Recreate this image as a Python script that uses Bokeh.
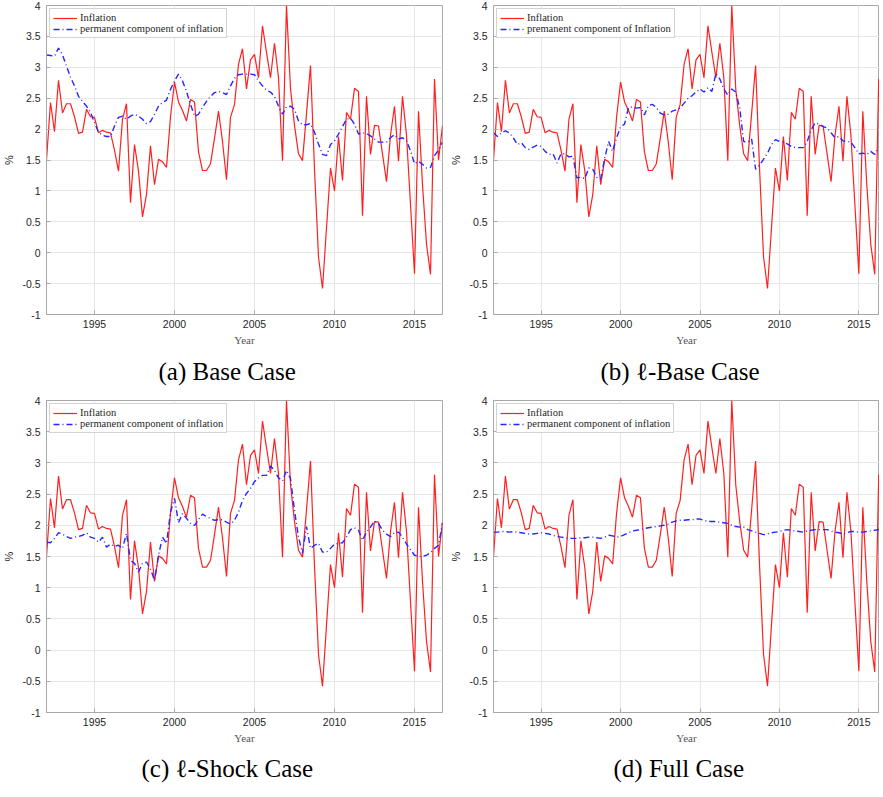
from bokeh.plotting import figure
from bokeh.models import Range1d, FixedTicker, NumeralTickFormatter, Title, Legend, LegendItem
from bokeh.layouts import column, row
from bokeh.embed import file_html
from bokeh.resources import INLINE

# quarterly time index 1992Q1 .. 2016Q4
years = [1992 + q / 4 for q in range(100)]

inflation = [
    1.50, 2.43, 1.96, 2.79, 2.26, 2.41, 2.41, 2.20, 1.93, 1.95,
    2.32, 2.20, 2.19, 1.94, 1.98, 1.95, 1.94, 1.66, 1.32, 2.16,
    2.41, 0.81, 1.75, 1.32, 0.58, 0.94, 1.73, 1.10, 1.51, 1.47,
    1.38, 2.20, 2.76, 2.44, 2.30, 2.13, 2.48, 2.44, 1.63, 1.33,
    1.33, 1.44, 1.85, 2.29, 1.80, 1.18, 2.19, 2.40, 3.05, 3.30,
    2.65, 3.12, 3.21, 2.83, 3.67, 3.24, 2.83, 3.39, 2.83, 1.49,
    4.00, 2.65, 2.06, 1.60, 1.49, 2.25, 3.03, 1.35, -0.07, -0.58,
    0.40, 1.37, 1.00, 1.88, 1.17, 2.27, 2.16, 2.66, 2.61, 0.60,
    2.53, 1.59, 2.06, 2.05, 1.60, 1.15, 1.90, 2.37, 1.48, 2.53,
    1.90, 0.78, -0.34, 2.29, 1.10, 0.14, -0.35, 2.81, 1.50, 2.05,
]

perm_base = [
    3.20, 3.19, 3.18, 3.31, 3.20, 3.02, 2.84, 2.70, 2.53, 2.45,
    2.37, 2.27, 2.11, 1.95, 1.90, 1.88, 1.88, 2.05, 2.19, 2.21,
    2.16, 2.21, 2.24, 2.21, 2.16, 2.09, 2.12, 2.24, 2.37, 2.43,
    2.47, 2.64, 2.78, 2.89, 2.78, 2.61, 2.40, 2.21, 2.24, 2.35,
    2.45, 2.53, 2.59, 2.61, 2.59, 2.56, 2.70, 2.82, 2.88, 2.89,
    2.89, 2.89, 2.88, 2.78, 2.70, 2.63, 2.60, 2.53, 2.37, 2.24,
    2.36, 2.37, 2.32, 2.13, 2.07, 2.07, 2.09, 1.95, 1.76, 1.59,
    1.57, 1.75, 1.81, 1.92, 2.04, 2.16, 2.18, 2.08, 1.92, 1.94,
    1.93, 1.89, 1.84, 1.79, 1.79, 1.79, 1.86, 1.91, 1.84, 1.86,
    1.81, 1.65, 1.44, 1.48, 1.43, 1.37, 1.38, 1.57, 1.66, 1.79,
]

perm_lbase = [
    1.94, 1.88, 1.94, 1.97, 1.94, 1.86, 1.75, 1.78, 1.70, 1.67,
    1.71, 1.74, 1.72, 1.64, 1.59, 1.60, 1.45, 1.60, 1.60, 1.55,
    1.56, 1.21, 1.22, 1.20, 1.37, 1.35, 1.22, 1.19, 1.53, 1.80,
    1.64, 1.86, 2.04, 2.08, 2.35, 2.36, 2.34, 2.35, 2.23, 2.38,
    2.40, 2.35, 2.26, 2.23, 2.24, 2.29, 2.31, 2.34, 2.42, 2.50,
    2.54, 2.60, 2.65, 2.60, 2.67, 2.61, 2.90, 2.81, 2.65, 2.55,
    2.65, 2.60, 2.34, 1.80, 1.79, 1.84, 1.35, 1.42, 1.51, 1.61,
    1.75, 1.83, 1.80, 1.79, 1.76, 1.72, 1.70, 1.70, 1.70, 1.80,
    1.99, 2.10, 2.08, 2.04, 2.02, 1.94, 1.86, 1.88, 1.81, 1.80,
    1.79, 1.70, 1.60, 1.61, 1.59, 1.64, 1.59, 1.70, 1.72, 1.75,
]

perm_lshock = [
    1.73, 1.72, 1.79, 1.88, 1.86, 1.82, 1.79, 1.81, 1.82, 1.84,
    1.88, 1.81, 1.79, 1.73, 1.81, 1.65, 1.70, 1.66, 1.68, 1.63,
    1.87, 1.44, 1.39, 1.25, 1.39, 1.41, 1.30, 1.12, 1.52, 1.81,
    1.71, 2.21, 2.43, 2.04, 2.19, 2.11, 2.03, 2.00, 2.09, 2.18,
    2.14, 2.11, 2.08, 2.09, 2.09, 2.05, 2.02, 2.08, 2.21, 2.40,
    2.51, 2.59, 2.70, 2.76, 2.80, 2.80, 2.95, 2.88, 2.76, 2.71,
    2.88, 2.75, 2.24, 1.81, 1.55, 1.98, 1.63, 1.68, 1.71, 1.57,
    1.57, 1.63, 1.70, 1.71, 1.72, 1.81, 1.93, 1.96, 1.92, 1.76,
    1.89, 1.97, 2.07, 2.03, 1.92, 1.86, 1.82, 1.88, 1.89, 1.81,
    1.70, 1.61, 1.52, 1.50, 1.50, 1.52, 1.56, 1.63, 1.68, 2.04,
]

perm_full = [
    1.89, 1.89, 1.90, 1.90, 1.89, 1.90, 1.89, 1.88, 1.87, 1.86,
    1.86, 1.87, 1.88, 1.87, 1.86, 1.84, 1.82, 1.81, 1.80, 1.79,
    1.79, 1.79, 1.80, 1.80, 1.81, 1.81, 1.80, 1.79, 1.81, 1.84,
    1.83, 1.81, 1.82, 1.85, 1.88, 1.91, 1.92, 1.93, 1.95, 1.96,
    1.97, 1.98, 1.99, 2.00, 2.02, 2.05, 2.07, 2.08, 2.08, 2.09,
    2.09, 2.10, 2.10, 2.08, 2.06, 2.06, 2.06, 2.05, 2.04, 2.03,
    2.00, 1.98, 1.97, 1.97, 1.93, 1.91, 1.89, 1.87, 1.85, 1.86,
    1.88, 1.89, 1.90, 1.92, 1.93, 1.92, 1.91, 1.90, 1.89, 1.91,
    1.92, 1.93, 1.93, 1.93, 1.93, 1.91, 1.89, 1.88, 1.86, 1.88,
    1.90, 1.90, 1.89, 1.89, 1.90, 1.91, 1.92, 1.93, 1.94, 1.95,
]

x_ticks = [1995, 2000, 2005, 2010, 2015]
y_ticks = [-1, -0.5, 0, 0.5, 1, 1.5, 2, 2.5, 3, 3.5, 4]

RED = "#ff1f1f"
BLUE = "#2626ff"
AX = "#a8a8a8"
GRID = "#e6e6e6"


def panel(perm, perm_label, caption, x_end, frame_w, frame_h, b_right, b_bottom,
          cap_off, cap_standoff):
    p = figure(frame_width=frame_w, frame_height=frame_h,
               x_range=Range1d(1992, x_end), y_range=Range1d(-1, 4),
               output_backend="svg", toolbar_location=None,
               min_border_left=40, min_border_right=b_right,
               min_border_top=5, min_border_bottom=b_bottom)
    p.outline_line_color = AX
    p.outline_line_width = 1
    r1 = p.line(years, inflation, line_color=RED, line_width=1.2)
    r2 = p.line(years, perm, line_color=BLUE, line_width=1.4, line_dash="6 3 1 3")

    for ax in (p.xaxis[0], p.yaxis[0]):
        ax.axis_line_color = AX
        ax.major_tick_line_color = AX
        ax.major_tick_in = 4
        ax.major_tick_out = 0
        ax.minor_tick_line_color = None
        ax.major_label_text_font = "Liberation Sans"
        ax.major_label_text_font_size = "10.5px"
        ax.major_label_text_color = "#262626"
        ax.axis_label_text_font_style = "normal"
    p.xaxis.ticker = FixedTicker(ticks=x_ticks)
    p.yaxis.ticker = FixedTicker(ticks=y_ticks)
    p.yaxis.formatter = NumeralTickFormatter(format="0.[0]")
    p.xaxis.major_label_standoff = 5
    p.yaxis.major_label_standoff = 6
    p.xaxis.axis_label = "Year"
    p.xaxis.axis_label_text_font = "Liberation Serif"
    p.xaxis.axis_label_text_font_size = "11px"
    p.xaxis.axis_label_text_color = "#555555"
    p.xaxis.axis_label_standoff = 3
    p.yaxis.axis_label = "%"
    p.yaxis.axis_label_text_font = "Liberation Sans"
    p.yaxis.axis_label_text_font_size = "11px"
    p.yaxis.axis_label_text_color = "#262626"
    p.yaxis.axis_label_standoff = 4

    p.xgrid.grid_line_color = GRID
    p.ygrid.grid_line_color = GRID

    legend = Legend(items=[LegendItem(label="Inflation", renderers=[r1]),
                           LegendItem(label=perm_label, renderers=[r2])],
                    location="top_left")
    legend.margin = 3
    legend.padding = 3
    legend.spacing = 0
    legend.label_height = 11
    legend.label_standoff = 3
    legend.glyph_width = 24
    legend.glyph_height = 10
    legend.label_text_font = "Liberation Serif"
    legend.label_text_font_size = "10.5px"
    legend.label_text_color = "#262626"
    legend.border_line_color = AX
    legend.background_fill_color = "white"
    legend.background_fill_alpha = 1
    p.add_layout(legend)

    t = Title(text=caption, align="left", text_font="Liberation Serif",
              text_font_size="25px", text_font_style="normal",
              text_color="black", offset=cap_off, standoff=cap_standoff)
    p.add_layout(t, "below")
    return p


pa = panel(perm_base, "permanent component of inflation", "(a) Base Case",
           2016.75, 396, 309, 5, 81, 112, 15)
pb = panel(perm_lbase, "premanent component of Inflation", "(b) \u2113-Base Case",
           2016.3, 386, 309, 0, 81, 107, 15)
pc = panel(perm_lshock, "permanent component of inflation", "(c) \u2113-Shock Case",
           2016.75, 396, 312, 5, 74, 95, 13)
pd = panel(perm_full, "permanent component of inflation", "(d) Full Case",
           2016.3, 386, 312, 0, 74, 120, 13)

layout = column(row(pa, pb), row(pc, pd))

open("out.html", "w").write(file_html(layout, INLINE))
